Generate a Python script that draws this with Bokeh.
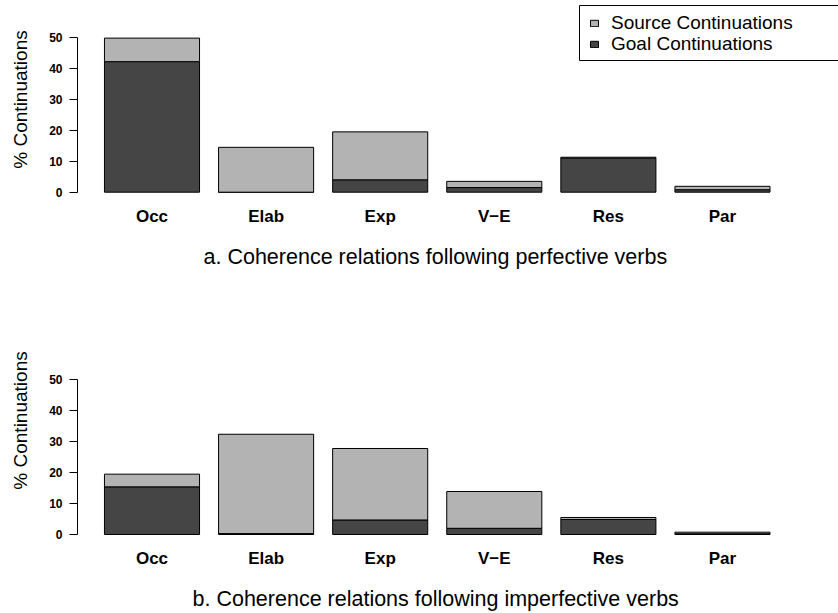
from bokeh.plotting import figure
from bokeh.layouts import column
from bokeh.models import (Range1d, FixedTicker, Legend, LegendItem,
                          ColumnDataSource, Title, BoxAnnotation)
from bokeh.embed import file_html
from bokeh.resources import INLINE

# ---- data ----
categories = ["Occ", "Elab", "Exp", "V\u2212E", "Res", "Par"]
y_ticks = [0, 10, 20, 30, 40, 50]
series_names = ["Source Continuations", "Goal Continuations"]

perf_goal = [42.2, 0.0, 4.0, 1.5, 11.0, 0.8]
perf_source = [7.6, 14.5, 15.5, 2.0, 0.3, 1.1]

imperf_goal = [15.4, 0.3, 4.7, 2.0, 4.85, 0.25]
imperf_source = [4.1, 32.1, 23.1, 11.9, 0.65, 0.5]

captions = ["a. Coherence relations following perfective verbs",
            "b. Coherence relations following imperfective verbs"]
y_title = "% Continuations"

# ---- style ----
DARK = "#454545"
LIGHT = "#B3B3B3"
FONT = "Liberation Sans"
W = 838
LEFT = 77


def panel(goal, source, caption, cap_offset, height, frame_h, y_start, y_end, legend):
    p = figure(width=W, height=height, output_backend="svg", toolbar_location=None,
               x_range=Range1d(-0.653, 6.017),
               y_range=Range1d(y_start, y_end),
               min_border_left=LEFT, min_border_right=0, min_border_top=0,
               min_border_bottom=height - frame_h)
    p.grid.visible = False
    p.outline_line_color = None
    p.background_fill_color = "white"
    p.border_fill_color = "white"

    xs = list(range(len(categories)))
    src = ColumnDataSource(dict(x=xs, goal=goal, source=source))
    r_goal, r_src = p.vbar_stack(["goal", "source"], x="x", width=1 / 1.2, source=src,
                                 fill_color=[DARK, LIGHT], line_color="black",
                                 line_width=1)

    # y axis
    ya = p.yaxis[0]
    ya.ticker = FixedTicker(ticks=y_ticks)
    ya.bounds = (0, 50)
    ya.major_tick_out = 8
    ya.major_tick_in = 0
    ya.minor_tick_line_color = None
    ya.axis_line_color = "black"
    ya.major_tick_line_color = "black"
    ya.major_label_text_font = FONT
    ya.major_label_text_font_style = "bold"
    ya.major_label_text_font_size = "12px"
    ya.major_label_text_color = "black"
    ya.major_label_standoff = 7
    ya.axis_label = y_title
    ya.axis_label_text_font = FONT
    ya.axis_label_text_font_style = "normal"
    ya.axis_label_text_font_size = "19px"
    ya.axis_label_text_color = "black"
    ya.axis_label_standoff = 15

    # x axis (category labels only)
    xa = p.xaxis[0]
    xa.ticker = FixedTicker(ticks=xs)
    xa.major_label_overrides = {i: c for i, c in zip(xs, categories)}
    xa.axis_line_color = None
    xa.major_tick_line_color = None
    xa.minor_tick_line_color = None
    xa.major_label_text_font = FONT
    xa.major_label_text_font_style = "bold"
    xa.major_label_text_font_size = "17px"
    xa.major_label_text_color = "black"
    xa.major_label_standoff = 2
    # spacer between the category labels and the caption
    xa.axis_label = " "
    xa.axis_label_text_font_size = "1px"
    xa.axis_label_standoff = 11

    # caption under the panel
    cap = Title(text=caption, align="left", offset=cap_offset,
                text_font=FONT, text_font_size="21.5px", text_font_style="normal",
                text_color="black", vertical_align="middle", standoff=0)
    p.add_layout(cap, "below")

    if legend:
        # legend frame (screen units, relative to the plot frame)
        box = BoxAnnotation(left=502, right=800, top=frame_h - 5, bottom=frame_h - 60,
                            left_units="screen", right_units="screen",
                            top_units="screen", bottom_units="screen",
                            fill_color="white", fill_alpha=1.0,
                            line_color="black", line_width=1, line_alpha=1.0)
        p.add_layout(box)
        common = dict(label_text_font=FONT, label_text_font_size="19px",
                      label_text_color="black",
                      glyph_width=10, glyph_height=8, label_standoff=12,
                      label_height=18, padding=0, spacing=0, margin=0,
                      border_line_color=None, background_fill_alpha=0.0)
        row_h = 22
        lg1 = Legend(items=[LegendItem(label=series_names[0], renderers=[r_src])],
                     location=(512, frame_h - 22.75 - row_h / 2), **common)
        lg2 = Legend(items=[LegendItem(label=series_names[1], renderers=[r_goal])],
                     location=(512, frame_h - 44.25 - row_h / 2), **common)
        p.add_layout(lg1)
        p.add_layout(lg2)
    return p


p1 = panel(perf_goal, perf_source, captions[0], 126, 300, 198, -2.04, 61.96, True)
p2 = panel(imperf_goal, imperf_source, captions[1], 115, 313, 240, -1.94, 75.63, False)

layout = column(p1, p2, spacing=0)
open("out.html", "w").write(file_html(layout, INLINE))
